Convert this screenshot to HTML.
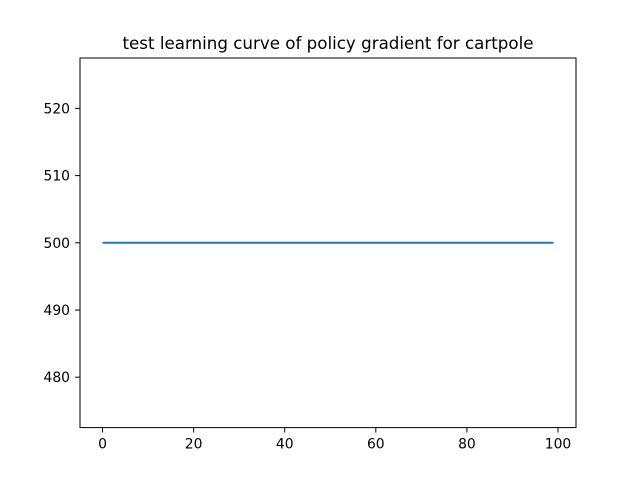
<!DOCTYPE html>
<html><head><meta charset="utf-8"><style>
body{margin:0;background:#fff}
svg text{font-family:"DejaVu Sans","Liberation Sans",sans-serif;fill:#000}
</style></head><body>
<svg width="640" height="480" id="c">
<rect width="640" height="480" fill="#fff"/>
<text x="328" y="49" font-size="16.7" text-anchor="middle">test learning curve of policy gradient for cartpole</text>
<g id="ticks"></g>
<path id="line" fill="none" stroke="#1f77b4" stroke-width="2"/>
<rect x="80" y="58" width="496" height="369.6" fill="none" stroke="#000" stroke-width="1"/>
</svg>
<script>
const rewards = [];
for (let i = 0; i < 100; i++) rewards.push(500);
const xTicks = [0, 20, 40, 60, 80, 100];
const yTicks = [480, 490, 500, 510, 520];
const L=80,R=576,T=58,B=427.6;
const xmin=-4.95,xmax=103.95,ymin=472.5,ymax=527.5;
const sx=v=>L+(v-xmin)/(xmax-xmin)*(R-L);
const sy=v=>B-(v-ymin)/(ymax-ymin)*(B-T);
const ns="http://www.w3.org/2000/svg";
const g=document.getElementById('ticks');
function mk(t,a){const e=document.createElementNS(ns,t);for(const k in a)e.setAttribute(k,a[k]);g.appendChild(e);return e;}
xTicks.forEach(v=>{const x=sx(v);
 const l=mk('line',{x1:x,x2:x,y1:B,y2:B+4.9,stroke:'#000','stroke-width':1});
 
 
 const t=mk('text',{x:x,y:B+21,'font-size':13.9,'text-anchor':'middle'});t.textContent=v;
 
 
});
yTicks.forEach(v=>{const y=sy(v);
 const l=mk('line',{x1:L-4.9,x2:L,y1:y,y2:y,stroke:'#000','stroke-width':1});
 
 
 const t=mk('text',{x:L-10,y:y+5,'font-size':13.9,'text-anchor':'end'});t.textContent=v;
 
 
});
document.getElementById('line').setAttribute('d',rewards.map((v,i)=>(i?'L':'M')+sx(i)+' '+sy(v)).join(' '));
</script>
</body></html>
